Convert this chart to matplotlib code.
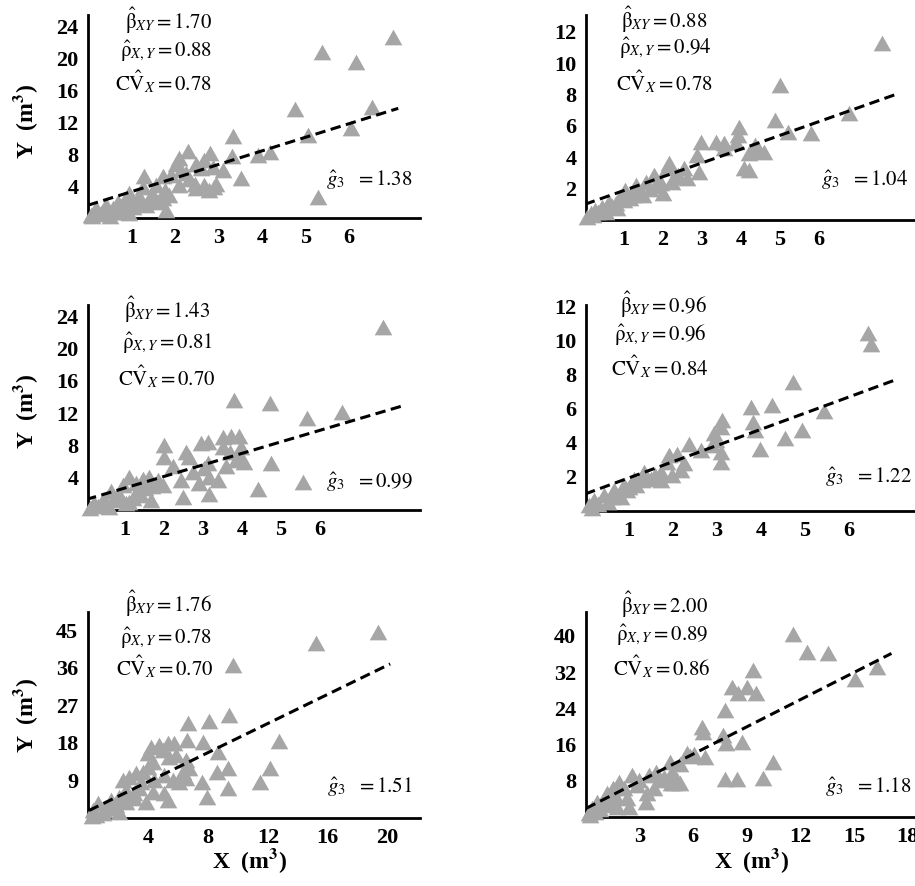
import matplotlib
matplotlib.use("Agg")
import matplotlib.pyplot as plt

plt.rcParams['font.family'] = ['Liberation Serif', 'DejaVu Serif']
plt.rcParams['mathtext.fontset'] = 'stix'

# ---------------- data ----------------
# Panel A (top-left)
xA = [7.02, 5.37, 6.16, 4.76, 6.52, 6.04, 5.06, 5.29,
      3.33, 2.29, 2.80, 3.90, 4.19, 3.30, 2.08, 2.02, 2.48, 2.60, 2.87, 3.10,
      2.25, 1.91, 1.29, 1.72, 3.52, 2.46, 2.67, 2.94, 2.79, 2.48, 2.90, 1.56,
      1.26, 1.76, 1.87, 1.49, 1.18, 0.95, 0.87, 1.79, 1.60, 0.68, 0.41, 0.18,
      0.57, 1.03, 0.80, 0.30, 0.07, 0.95, 1.33, 1.72, 2.10, 2.33, 2.14, 2.67,
      0.10, 0.25, 0.45, 0.60, 0.75, 0.90, 1.10, 1.20, 1.40, 0.50, 0.35]
yA = [22.7, 20.8, 19.5, 13.7, 13.9, 11.2, 10.4, 2.66,
      10.25, 8.4, 8.1, 7.9, 8.3, 7.7, 7.45, 6.8, 6.8, 6.2, 6.4, 6.0,
      5.6, 5.4, 5.25, 5.2, 4.96, 4.3, 4.1, 4.3, 3.5, 3.7, 3.9, 4.1,
      3.9, 3.5, 2.9, 2.9, 2.7, 3.1, 2.5, 1.0, 2.0, 2.0, 1.6, 1.2,
      1.2, 1.4, 0.8, 0.6, 0.4, 0.6, 1.6, 2.5, 4.1, 4.9, 6.0, 7.2,
      0.2, 0.5, 0.9, 0.7, 1.5, 1.8, 2.0, 1.9, 2.4, 0.3, 0.9]

# Panel B (top-right)
xB = [7.61, 5.00, 6.78, 5.79, 4.86, 3.95, 5.20, 3.92, 2.97, 3.35, 3.56, 3.88,
      4.35, 4.46, 4.60, 4.21, 2.88, 4.08, 4.21, 2.92, 2.15, 2.11, 2.54, 1.77,
      2.62, 2.24, 1.94, 1.56, 1.30, 1.04, 1.68, 1.36, 0.91, 1.17, 0.62, 0.79,
      0.44, 0.27, 0.15, 0.06, 0.53, 0.83, 1.50, 2.00, 2.28, 3.56,
      0.35, 0.70, 1.00, 1.25, 1.80, 2.40, 0.20, 0.50]
yB = [11.27, 8.6, 6.8, 5.53, 6.38, 5.96, 5.64, 5.4, 5.0, 5.0, 4.9, 5.0,
      4.79, 4.47, 4.36, 4.25, 4.15, 3.3, 3.2, 3.08, 3.62, 3.3, 3.3, 2.87,
      2.66, 2.45, 2.34, 2.45, 2.23, 1.91, 2.0, 1.81, 1.49, 1.38, 1.17, 1.08,
      0.85, 0.64, 0.43, 0.21, 0.53, 0.74, 1.6, 1.7, 2.77, 4.6,
      0.5, 0.9, 1.3, 1.6, 2.2, 2.9, 0.3, 0.6]

# Panel C (middle-left)
xC = [7.62, 3.78, 4.72, 5.66, 6.56, 4.74, 5.57, 4.40, 2.48, 3.16,
      3.50, 3.72, 3.93, 2.95, 3.12, 2.00, 2.56, 3.50, 3.97, 3.68,
      2.00, 2.65, 3.93, 4.06, 3.59, 3.03, 2.22, 2.74, 3.38, 3.16,
      2.44, 2.90, 1.11, 1.45, 1.62, 1.84, 1.97, 1.28, 0.94, 0.64,
      1.67, 1.41, 1.20, 0.85, 0.43, 0.21, 1.03, 3.85, 3.12,
      0.10, 0.30, 0.50, 0.70, 0.90, 1.10, 1.30, 0.60, 1.50, 1.70]
yC = [22.7, 13.6, 13.2, 11.35, 12.2, 5.8, 3.5, 2.6, 1.57, 2.0,
      9.07, 9.2, 9.2, 8.25, 8.4, 8.04, 7.2, 7.8, 7.8, 7.2,
      6.6, 6.6, 6.8, 5.98, 5.4, 5.2, 5.4, 4.75, 3.7, 4.1,
      3.7, 3.3, 4.05, 3.9, 4.1, 3.7, 3.1, 3.3, 3.1, 2.3,
      1.24, 1.86, 1.44, 1.86, 1.24, 0.83, 0.83, 6.2, 5.8,
      0.3, 0.5, 0.9, 1.2, 1.5, 1.0, 2.2, 0.4, 2.7, 3.0]

# Panel D (middle-right)
xD = [6.44, 6.50, 4.73, 4.24, 3.77, 3.81, 5.42, 4.93, 4.55, 3.98, 3.86,
      3.12, 3.08, 2.93, 2.89, 3.08, 3.08, 2.64, 2.36, 2.10, 1.91, 1.87,
      2.17, 1.98, 1.72, 1.34, 1.49, 1.11, 0.89, 1.15, 0.66, 0.43, 0.20,
      0.09, 0.81, 0.51, 0.96, 1.72, 2.25, 2.97,
      0.30, 0.60, 1.00, 1.30, 1.60, 0.15]
yD = [10.43, 9.8, 7.6, 6.2, 6.1, 5.24, 5.9, 4.75, 4.26, 3.67, 4.75,
      5.34, 4.95, 4.56, 3.87, 3.48, 2.88, 3.57, 3.96, 3.37, 3.27, 2.88,
      2.39, 2.1, 2.29, 2.29, 1.9, 1.9, 1.51, 1.51, 1.22, 0.92, 0.63,
      0.34, 0.82, 0.53, 1.22, 1.8, 2.8, 4.17,
      0.4, 0.8, 1.4, 1.8, 2.1, 0.2]

# Panel E (bottom-left)
xE = [19.4, 15.2, 9.68, 9.41, 6.66, 8.07, 12.77, 6.56, 7.63, 8.68, 9.35,
      8.61, 12.15, 11.5, 7.56, 9.30, 7.90,
      5.28, 5.73, 4.72, 4.16, 3.94, 4.94, 5.39, 5.84, 4.27, 3.94, 6.50,
      6.73, 6.29, 2.70, 2.26, 3.15, 3.60, 3.49, 4.38, 5.06, 5.62, 6.06,
      6.51, 2.48, 3.38, 4.27, 5.06, 5.28, 3.83, 3.04, 2.03, 1.81, 1.14,
      0.58, 1.48, 0.25, 0.92, 2.03,
      0.50, 1.00, 1.50, 0.20, 2.50, 3.00]
yE = [44.7, 41.9, 36.7, 24.7, 22.7, 23.3, 18.5, 18.6, 18.2, 15.9, 11.9,
      11.1, 11.9, 8.7, 8.7, 7.1, 5.0,
      17.9, 17.9, 17.5, 17.1, 15.5, 16.3, 14.7, 15.1, 13.5, 12.3, 13.9,
      11.9, 11.1, 9.9, 9.1, 10.7, 11.1, 8.7, 9.1, 10.3, 9.1, 8.7,
      9.5, 6.7, 7.1, 6.3, 5.9, 4.3, 3.9, 4.7, 5.1, 3.1, 2.7,
      3.5, 4.3, 1.9, 1.1, 1.5,
      0.8, 1.8, 2.5, 0.4, 3.8, 6.0]

# Panel F (bottom-right)
xF = [11.61, 12.36, 13.53, 16.28, 15.06, 9.37, 9.00, 8.16, 8.53, 9.52,
      7.78, 6.48, 6.55, 7.69, 7.84, 8.72, 6.66, 5.82, 10.49, 9.93, 7.78,
      8.44, 5.26, 4.70, 4.90, 5.26,
      5.67, 6.05, 4.37, 5.11, 4.74, 3.90, 3.53, 4.09, 3.81, 3.43, 3.34,
      2.59, 2.97, 1.85, 2.13, 2.87, 2.31, 1.50, 1.19, 1.66, 0.63, 1.01,
      0.35, 1.75, 0.17, 2.41, 4.83,
      0.50, 0.80, 1.30, 0.20]
yF = [40.5, 36.5, 36.3, 33.0, 30.4, 32.5, 28.8, 28.8, 27.3, 27.3,
      23.6, 19.9, 18.8, 18.1, 16.3, 16.5, 13.3, 13.5, 12.2, 8.5, 8.3,
      8.3, 11.8, 12.1, 7.4, 7.4,
      14.1, 13.8, 8.9, 8.2, 7.5, 10.0, 9.3, 8.2, 6.3, 5.2, 3.4,
      9.3, 8.2, 7.8, 6.3, 7.1, 4.1, 6.3, 5.2, 4.5, 3.4, 2.7,
      2.0, 2.3, 0.9, 2.3, 10.0,
      1.0, 1.8, 3.0, 0.4]

# fitted dashed lines: intercept, slope, x end
intercepts = [1.6, 1.0, 1.3, 1.0, 1.8, 1.9]
slopes = [1.70, 0.88, 1.43, 0.95, 1.74, 2.00]
line_ends = [7.13, 8.06, 8.09, 7.07, 20.2, 17.1]

beta_vals = ['1.70', '0.88', '1.43', '0.96', '1.76', '2.00']
rho_vals = ['0.88', '0.94', '0.81', '0.96', '0.78', '0.89']
cv_vals = ['0.78', '0.78', '0.70', '0.84', '0.70', '0.86']
g3_vals = ['1.38', '1.04', '0.99', '1.22', '1.51', '1.18']

x_ticks = [[1, 2, 3, 4, 5, 6], [1, 2, 3, 4, 5, 6], [1, 2, 3, 4, 5, 6],
           [1, 2, 3, 4, 5, 6], [4, 8, 12, 16, 20], [3, 6, 9, 12, 15, 18]]
y_ticks = [[4, 8, 12, 16, 20, 24], [2, 4, 6, 8, 10, 12], [4, 8, 12, 16, 20, 24],
           [2, 4, 6, 8, 10, 12], [9, 18, 27, 36, 45], [8, 16, 24, 32, 40]]

xs = [xA, xB, xC, xD, xE, xF]
ys = [yA, yB, yC, yD, yE, yF]

# ---------------- layout ----------------
W, H = 915, 886
fig = plt.figure(figsize=(W / 100, H / 100), dpi=100)

# axes boxes in pixels: left, top, right, bottom
boxes = [(88, 15, 420, 218), (586, 15, 915, 220),
         (88, 305, 420, 510), (586, 305, 915, 511),
         (88, 612, 420, 818), (586, 612, 915, 817)]
xlims = [(0, 7.63), (0.03, 8.46), (0.05, 8.56), (0.02, 7.5), (-0.07, 22.2), (0, 18.42)]
ylims = [(0, 25.4), (0, 13.08), (0, 25.4), (0, 12.1), (0, 49.4), (0, 45.25)]

# annotation positions (pixels): right edge x, baselines of 3 lines; g3 right x, baseline
ann_right = [(212, 212, 212), (707, 712, 713), (210, 213, 215),
             (707, 707, 708), (212, 212, 213), (708, 708, 710)]
ann_base = [(29, 56, 90), (28, 53, 90), (318, 348, 385),
            (313, 340, 375), (612, 643, 675), (613, 640, 675)]
g3_pos = [(413, 186), (908, 186), (413, 488), (912, 483), (413, 793), (912, 793)]

tri = [(-1, -0.89), (1, -0.89), (0, 0.89)]
gray = '#a6a6a6'
tick_font = dict(family='Liberation Serif', weight='bold', size=16)
ann_size = 15


def fx(px):
    return px / W


def fy(py):
    return 1 - py / H


for i in range(6):
    l, t, r, b = boxes[i]
    ax = fig.add_axes([fx(l), fy(b), (r - l) / W, (b - t) / H])
    ax.set_xlim(*xlims[i])
    ax.set_ylim(*ylims[i])
    for s in ['top', 'right']:
        ax.spines[s].set_visible(False)
    for s in ['left', 'bottom']:
        ax.spines[s].set_linewidth(2.0)
        ax.spines[s].set_color('black')
    ax.plot(xs[i], ys[i], ls='none', marker=tri, ms=12.7, mfc=gray,
            mec='none', zorder=3, clip_on=False)
    xl = [0, line_ends[i]]
    yl = [intercepts[i] + slopes[i] * v for v in xl]
    ax.plot(xl, yl, color='black', lw=2.2, dashes=(3.4, 1.8), zorder=4)
    ax.set_xticks(x_ticks[i])
    ax.set_yticks(y_ticks[i])
    ax.set_xticklabels([str(v) for v in x_ticks[i]], fontdict=tick_font)
    ax.set_yticklabels([str(v) for v in y_ticks[i]], fontdict=tick_font)
    ax.tick_params(length=0, pad=7)
    ax.patch.set_alpha(0)

    rx = ann_right[i]
    by = ann_base[i]
    fig.text(fx(rx[0]), fy(by[0]), r'$\hat{\mathrm{\beta}}_{XY} = ' + beta_vals[i] + '$',
             ha='right', va='baseline', fontsize=ann_size)
    fig.text(fx(rx[1]), fy(by[1]), r'$\hat{\mathrm{\rho}}_{X,Y} = ' + rho_vals[i] + '$',
             ha='right', va='baseline', fontsize=ann_size)
    fig.text(fx(rx[2]), fy(by[2]), r'$\mathrm{C}\hat{\mathrm{V}}_{X} = ' + cv_vals[i] + '$',
             ha='right', va='baseline', fontsize=ann_size)
    gx, gy = g3_pos[i]
    fig.text(fx(gx), fy(gy), r'$\hat{g}_{3}\ \ = ' + g3_vals[i] + '$',
             ha='right', va='baseline', fontsize=ann_size)

# axis titles
for cy in [121, 411, 715]:
    fig.text(fx(26), fy(cy), r'Y  (m$^{\mathbf{3}}$)', rotation=90, ha='center',
             va='center', fontsize=17, fontweight='bold')
for cx in [250, 752]:
    fig.text(fx(cx), fy(861), r'X  (m$^{\mathbf{3}}$)', ha='center', va='center',
             fontsize=17, fontweight='bold')

fig.savefig('out.png', dpi=100)
